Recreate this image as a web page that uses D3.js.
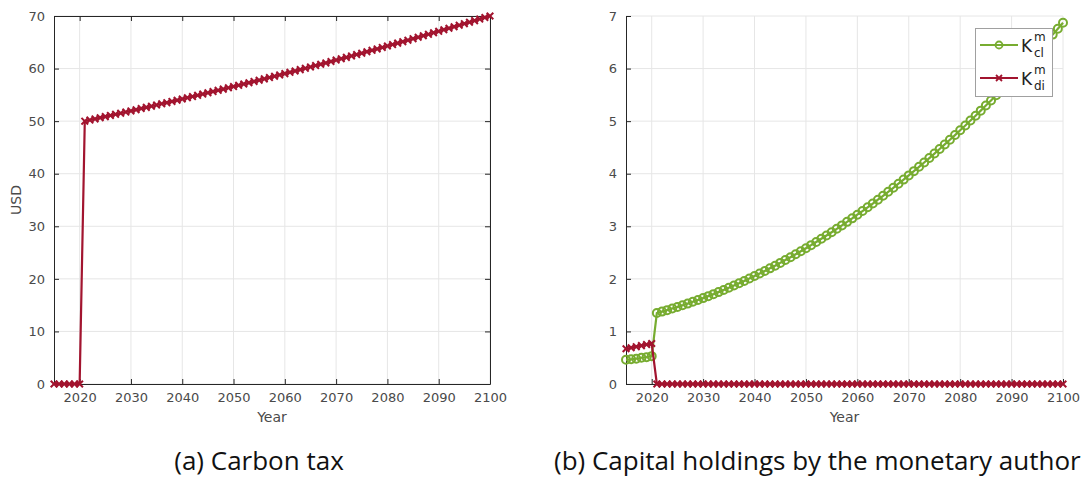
<!DOCTYPE html>
<html><head><meta charset="utf-8">
<script src="https://cdn.jsdelivr.net/npm/d3@7"></script>
<style>
html,body{margin:0;padding:0;background:#fff;}
svg{display:block;}
</style></head>
<body>
<svg id="c" width="1082" height="479"></svg>
<script>
// ---- data ----
const years = d3.range(2015, 2101);
const xTicks = [2020, 2030, 2040, 2050, 2060, 2070, 2080, 2090, 2100];
const yTicksA = [0, 10, 20, 30, 40, 50, 60, 70];
const yTicksB = [0, 1, 2, 3, 4, 5, 6, 7];
const carbonTax = [0,0,0,0,0,0,
 50.00,50.21,50.43,50.64,50.86,51.08,51.29,51.51,51.73,51.95,
 52.17,52.40,52.62,52.85,53.07,53.30,53.52,53.75,53.98,54.21,
 54.45,54.68,54.91,55.15,55.38,55.62,55.86,56.09,56.33,56.57,
 56.82,57.06,57.30,57.55,57.79,58.04,58.29,58.54,58.79,59.04,
 59.29,59.54,59.80,60.05,60.31,60.57,60.82,61.08,61.35,61.61,
 61.87,62.13,62.40,62.67,62.93,63.20,63.47,63.74,64.02,64.29,
 64.57,64.84,65.12,65.40,65.68,65.96,66.24,66.52,66.81,67.09,
 67.38,67.67,67.96,68.25,68.54,68.83,69.12,69.42,69.71,70.00];
const kCl = [0.46,0.47,0.48,0.50,0.51,0.53,
 1.350,1.377,1.405,1.435,1.465,1.497,1.529,1.563,1.598,1.634,
 1.671,1.709,1.748,1.788,1.830,1.872,1.916,1.960,2.006,2.053,
 2.101,2.150,2.200,2.251,2.304,2.357,2.412,2.467,2.524,2.582,
 2.641,2.701,2.762,2.824,2.887,2.952,3.017,3.084,3.151,3.220,
 3.290,3.361,3.433,3.506,3.580,3.656,3.732,3.810,3.888,3.968,
 4.049,4.131,4.214,4.298,4.383,4.470,4.557,4.646,4.735,4.826,
 4.918,5.011,5.104,5.200,5.296,5.393,5.491,5.591,5.691,5.793,
 5.896,6.000,6.105,6.211,6.318,6.426,6.535,6.646,6.757,6.870];
const kDi = [0.67,0.69,0.71,0.73,0.75,0.77,
 0,0,0,0,0,0,0,0,0,0, 0,0,0,0,0,0,0,0,0,0,
 0,0,0,0,0,0,0,0,0,0, 0,0,0,0,0,0,0,0,0,0,
 0,0,0,0,0,0,0,0,0,0, 0,0,0,0,0,0,0,0,0,0,
 0,0,0,0,0,0,0,0,0,0, 0,0,0,0,0,0,0,0,0,0];

const RED = "#A2142F", GREEN = "#77AC30";
const AXC = "#262626", GRID = "#e6e6e6", TXT = "#4a4a4a";
const FONT = "'DejaVu Sans', sans-serif";

const svg = d3.select("#c");

function panel(opts) {
  const {x0, x1, y0, y1, yMax, yTicks, box} = opts;
  const x = d3.scaleLinear().domain([2015, 2100]).range([x0, x1]);
  const y = d3.scaleLinear().domain([0, yMax]).range([y1, y0]);
  const g = svg.append("g");
  g.append("g").selectAll("line").data(xTicks).join("line")
    .attr("x1", d => x(d)).attr("x2", d => x(d)).attr("y1", y0).attr("y2", y1)
    .attr("stroke", GRID).attr("stroke-width", 1);
  g.append("g").selectAll("line").data(yTicks).join("line")
    .attr("x1", x0).attr("x2", x1).attr("y1", d => y(d)).attr("y2", d => y(d))
    .attr("stroke", GRID).attr("stroke-width", 1);
  const bottom = g.append("g").attr("transform", `translate(0,${y1})`)
    .call(d3.axisBottom(x).tickValues(xTicks).tickSizeInner(-5).tickSizeOuter(0).tickPadding(9).tickFormat(d3.format("d")));
  const left = g.append("g").attr("transform", `translate(${x0},0)`)
    .call(d3.axisLeft(y).tickValues(yTicks).tickSizeInner(-5).tickSizeOuter(0).tickPadding(9).tickFormat(d3.format("d")));
  [bottom, left].forEach(a => {
    a.select(".domain").attr("stroke", AXC).attr("stroke-width", 1);
    a.selectAll(".tick line").attr("stroke", AXC);
    a.selectAll("text").attr("fill", TXT).style("font-family", FONT).style("font-size", "13px");
  });
  if (box) {
    const top = g.append("g").attr("transform", `translate(0,${y0})`)
      .call(d3.axisTop(x).tickValues(xTicks).tickSizeInner(-5).tickSizeOuter(0).tickFormat(""));
    const right = g.append("g").attr("transform", `translate(${x1},0)`)
      .call(d3.axisRight(y).tickValues(yTicks).tickSizeInner(-5).tickSizeOuter(0).tickFormat(""));
    [top, right].forEach(a => {
      a.select(".domain").attr("stroke", AXC).attr("stroke-width", 1);
      a.selectAll(".tick line").attr("stroke", AXC);
    });
  }
  g.append("text").attr("x", (x0 + x1) / 2).attr("y", 422).attr("text-anchor", "middle")
    .attr("fill", TXT).style("font-family", FONT).style("font-size", "14px").text("Year");
  return {x, y, g};
}

function drawLine(p, vals, color) {
  const line = d3.line().x((d, i) => p.x(years[i])).y(d => p.y(d));
  p.g.append("path").datum(vals).attr("d", line)
    .attr("fill", "none").attr("stroke", color).attr("stroke-width", 2.2);
}
function drawX(p, vals, color, s) {
  p.g.append("g").selectAll("path").data(vals).join("path")
    .attr("d", (v, i) => {
      const cx = p.x(years[i]), cy = p.y(v);
      return `M${cx - s},${cy - s}L${cx + s},${cy + s}M${cx - s},${cy + s}L${cx + s},${cy - s}`;
    })
    .attr("stroke", color).attr("stroke-width", 2).attr("fill", "none");
}
function drawO(p, vals, color, r) {
  p.g.append("g").selectAll("circle").data(vals).join("circle")
    .attr("cx", (d, i) => p.x(years[i])).attr("cy", d => p.y(d)).attr("r", r)
    .attr("fill", "none").attr("stroke", color).attr("stroke-width", 2);
}

// Panel (a)
const pa = panel({x0: 54, x1: 490, y0: 16, y1: 384, yMax: 70, yTicks: yTicksA, box: true});
drawLine(pa, carbonTax, RED);
drawX(pa, carbonTax, RED, 3.3);
svg.append("text").attr("transform", "translate(21,200) rotate(-90)").attr("text-anchor", "middle")
  .attr("fill", TXT).style("font-family", FONT).style("font-size", "14px").text("USD");

// Panel (b)
const pb = panel({x0: 626, x1: 1063, y0: 16, y1: 384, yMax: 7, yTicks: yTicksB, box: false});
drawLine(pb, kCl, GREEN);
drawO(pb, kCl, GREEN, 4);
drawLine(pb, kDi, RED);
drawX(pb, kDi, RED, 3.3);

// legend
const lg = svg.append("g");
lg.append("rect").attr("x", 975.5).attr("y", 28.5).attr("width", 77).attr("height", 68)
  .attr("fill", "#fff").attr("stroke", "#a0a0a0").attr("stroke-width", 1);
const legendItems = [
  {name: "cl", color: GREEN, y: 45, mk: "o"},
  {name: "di", color: RED, y: 78, mk: "x"}
];
legendItems.forEach(it => {
  lg.append("line").attr("x1", 980).attr("x2", 1018).attr("y1", it.y).attr("y2", it.y)
    .attr("stroke", it.color).attr("stroke-width", 2);
  if (it.mk === "o") {
    lg.append("circle").attr("cx", 999).attr("cy", it.y).attr("r", 3.5)
      .attr("fill", "none").attr("stroke", it.color).attr("stroke-width", 1.8);
  } else {
    const s = 3;
    lg.append("path").attr("d", `M${999 - s},${it.y - s}L${999 + s},${it.y + s}M${999 - s},${it.y + s}L${999 + s},${it.y - s}`)
      .attr("stroke", it.color).attr("stroke-width", 1.8);
  }
  lg.append("text").attr("x", 1021).attr("y", it.y + 7).attr("fill", "#222")
    .style("font-family", FONT).style("font-size", "17px").text("K");
  lg.append("text").attr("x", 1034).attr("y", it.y - 4).attr("fill", "#222")
    .style("font-family", FONT).style("font-size", "12px").text("m");
  lg.append("text").attr("x", 1034).attr("y", it.y + 12).attr("fill", "#222")
    .style("font-family", FONT).style("font-size", "12px").text(it.name);
});

// captions
const CAPF = "'Open Sans', 'Noto Sans', sans-serif";
svg.append("text").attr("x", 259).attr("y", 470).attr("text-anchor", "middle")
  .attr("fill", "#111").style("font-family", CAPF).style("font-size", "26px").text("(a) Carbon tax");
svg.append("text").attr("x", 554).attr("y", 470).attr("text-anchor", "start")
  .attr("fill", "#111").style("font-family", CAPF).style("font-size", "26px").text("(b) Capital holdings by the monetary authority");
</script>
</body></html>
